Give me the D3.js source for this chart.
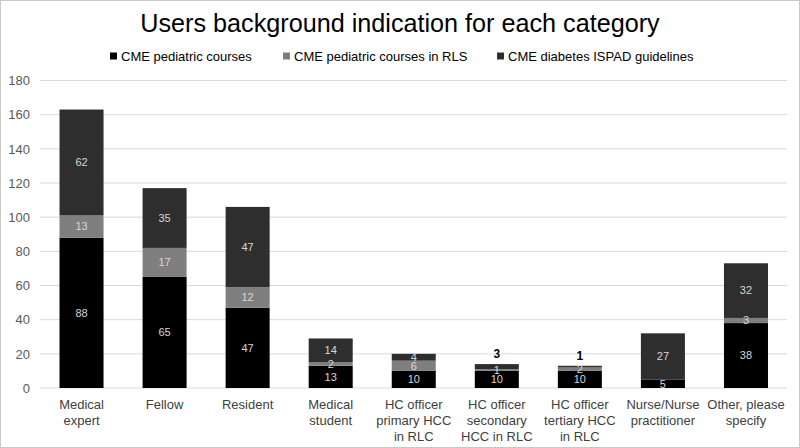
<!DOCTYPE html>
<html><head><meta charset="utf-8">
<script src="https://cdn.jsdelivr.net/npm/d3@7/dist/d3.min.js"></script>
<style>body{margin:0;background:#fff;}svg{display:block;font-family:Arial,"Liberation Sans",sans-serif;}</style>
</head><body><svg id="c" width="800" height="448"></svg>
<script>
const categories = [
  ["Medical","expert"],["Fellow"],["Resident"],["Medical","student"],
  ["HC officer","primary HCC","in RLC"],["HC officer","secondary","HCC in RLC"],
  ["HC officer","tertiary HCC","in RLC"],["Nurse/Nurse","practitioner"],["Other, please","specify"]
];
const seriesNames = ["CME pediatric courses","CME pediatric courses in RLS","CME diabetes ISPAD guidelines"];
const pediatric = [88,65,47,13,10,10,10,5,38];
const rls = [13,17,12,2,6,1,2,0,3];
const ispad = [62,35,47,14,4,3,1,27,32];
const yTicks = [0,20,40,60,80,100,120,140,160,180];
const colors = ["#000000","#7f7f7f","#2e2e2e"];

const svg = d3.select("#c");
svg.append("rect").attr("x",0.5).attr("y",0.5).attr("width",799).attr("height",447).attr("fill","#fff").attr("stroke","#c8c8c8");

svg.append("text").attr("x",400).attr("y",32).attr("text-anchor","middle")
  .attr("font-size",25.2).attr("fill","#000").text("Users background indication for each category");

const x = d3.scaleBand().domain(d3.range(categories.length)).range([40,787.5]).paddingInner(0.47).paddingOuter(0.235);
const y = d3.scaleLinear().domain([0,180]).range([388,80.5]);

const g = svg.append("g");
g.selectAll("line.grid").data(yTicks).join("line")
  .attr("x1",40).attr("x2",787).attr("y1",d=>y(d)).attr("y2",d=>y(d))
  .attr("stroke","#d9d9d9").attr("stroke-width",1);

const yAxis = d3.axisLeft(y).tickValues(yTicks).tickSize(0).tickPadding(10);
const ya = svg.append("g").attr("transform","translate(40,0)").call(yAxis);
ya.select(".domain").remove();
ya.selectAll("text").attr("font-size",13).attr("fill","#595959").attr("font-family","Arial,'Liberation Sans',sans-serif");

const data = categories.map((c,i)=>({i, v:[pediatric[i],rls[i],ispad[i]]}));
const stack = d3.stack().keys([0,1,2]).value((d,k)=>d.v[k]);
const layers = stack(data);

layers.forEach((layer,k)=>{
  svg.append("g").selectAll("rect").data(layer).join("rect")
    .attr("x",(d,i)=>x(i)).attr("width",x.bandwidth())
    .attr("y",d=>y(d[1])).attr("height",d=>y(d[0])-y(d[1]))
    .attr("fill",colors[k]);
});

layers.forEach((layer,k)=>{
  svg.append("g").attr("opacity",0.99).selectAll("text").data(layer.filter(d=>d[1]-d[0]>0)).join("text")
    .each(function(d){
      const val = d[1]-d[0];
      const i = d.data.i;
      const t = d3.select(this).attr("x",x(i)+x.bandwidth()/2).attr("text-anchor","middle").text(val);
      if(k===2 && val<=3){
        t.attr("y",y(d[1])-10).attr("dy","0.35em").attr("font-size",12).attr("font-weight","bold").attr("fill","#000");
      } else {
        t.attr("y",(y(d[0])+y(d[1]))/2).attr("dy","0.35em").attr("font-size",11).attr("fill","#d9d9d9");
      }
    });
});

// x labels
const xl = svg.append("g");
categories.forEach((lines,i)=>{
  const t = xl.append("text").attr("x",x(i)+x.bandwidth()/2).attr("y",409).attr("text-anchor","middle")
    .attr("font-size",13).attr("fill","#404040");
  lines.forEach((l,j)=>t.append("tspan").attr("x",x(i)+x.bandwidth()/2).attr("dy",j===0?0:16).text(l));
});

// legend
const legX = [110,283,497];
seriesNames.forEach((n,k)=>{
  svg.append("rect").attr("x",legX[k]).attr("y",52.5).attr("width",7).attr("height",7).attr("fill",colors[k]);
  svg.append("text").attr("x",legX[k]+11).attr("y",61).attr("font-size",13).attr("fill","#000").text(n);
});
</script></body></html>
